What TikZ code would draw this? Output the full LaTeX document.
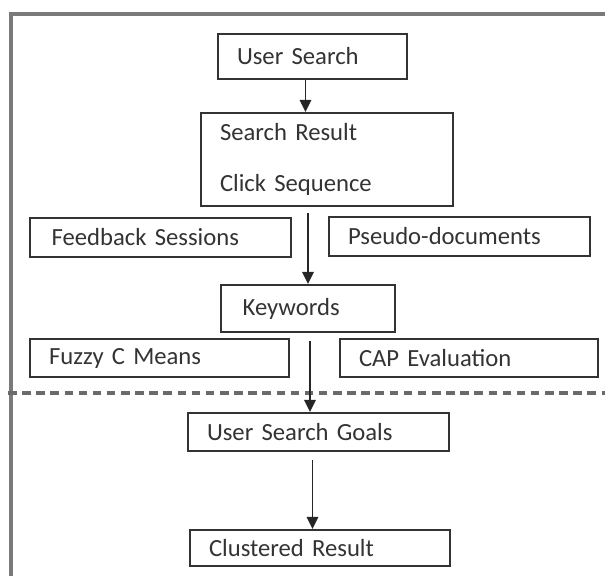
\documentclass[tikz,border=0pt]{standalone}
\usepackage{fontspec}
\setmainfont{Carlito}
\usepackage{tikz}
\usetikzlibrary{arrows.meta}

\definecolor{txtgray}{HTML}{333333}
\definecolor{framegray}{HTML}{7A7A7A}
\definecolor{dashgray}{HTML}{6A6A6A}

\begin{document}
\begin{tikzpicture}[x=0.75pt, y=-0.75pt,
    box/.style 2 args={draw=black!80, line width=1.6pt, rectangle, align=left,
        inner xsep=14.25pt, inner ysep=0pt, text width=#1, minimum height=#2,
        text=txtgray, font=\fontsize{18.5}{22}\selectfont},
    arr/.style={line width=1.4pt, black!85, -{Triangle[length=9pt, width=8.5pt]}}]
    \useasboundingbox (0, 0) rectangle (605, 576);

    % outer frame and separator
    \draw[framegray, line width=2.4pt] (11, 576) -- (11, 14) -- (605, 14);
    \draw[dashgray, line width=2.6pt, dash pattern=on 6.4pt off 4.2pt] (8, 393) -- (605, 393);

    % boxes
    \node[box={113.25pt}{33.75pt}] (usearch) at (312.5, 56.5) {User Search};
    \node[box={160.5pt}{69.75pt}] (result) at (327, 159.5) {Search Result\\[16pt]Click Sequence};
    \node[box={167.25pt}{29.25pt}] (feedback) at (160.5, 237.5) {\hspace{2pt}Feedback Sessions};
    \node[box={167.25pt}{29.25pt}] (pseudo) at (459.5, 236.5) {Pseudo-documents};
    \node[box={102pt}{35.25pt}] (keywords) at (308, 308.5) {\hspace{2pt}Keywords};
    \node[box={165.75pt}{28.5pt}] (fuzzy) at (159.5, 358) {Fuzzy C Means};
    \node[box={165pt}{28.5pt}] (cap) at (469, 358) {CAP Evaluation};
    \node[box={167.25pt}{28.5pt}] (goals) at (318.5, 432) {User Search Goals};
    \node[box={166.5pt}{27pt}] (clustered) at (320, 548) {Clustered Result};

    % flow
    \draw[arr] ([xshift=-5.25pt]usearch.south) -- ([xshift=-5.25pt]usearch.south |- result.north);
    \draw[arr] ([yshift=-4.5pt]keywords.north |- result.south) -- (keywords.north);
    \draw[arr] ([xshift=1.5pt, yshift=-6pt]keywords.south) -- ([xshift=1.5pt]keywords.south |- goals.north);
    \draw[arr] ([xshift=-4.5pt, yshift=-6pt]goals.south) -- ([xshift=-4.5pt]goals.south |- clustered.north);
\end{tikzpicture}
\end{document}
